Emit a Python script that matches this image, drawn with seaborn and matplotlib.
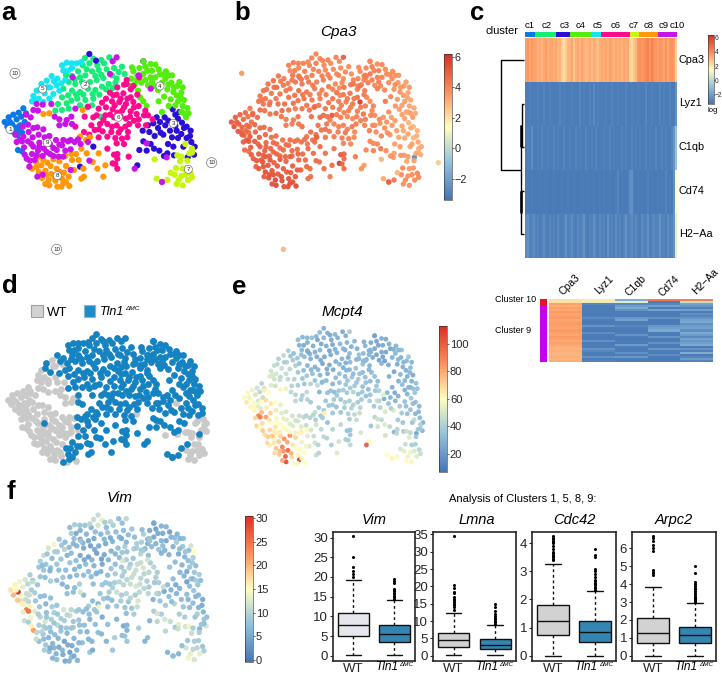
import numpy as np
import pandas as pd
import matplotlib
matplotlib.use("Agg")
import matplotlib.pyplot as plt
from matplotlib.cm import ScalarMappable
from matplotlib.colors import Normalize, LinearSegmentedColormap
from matplotlib.patches import Rectangle
import seaborn as sns

sns.set_theme(style="ticks")
plt.rcParams['font.family'] = ['Liberation Sans', 'DejaVu Sans']

W, H = 722, 675
expr_cmap = LinearSegmentedColormap.from_list('expr', ['#4575b4', '#91bfdb', '#ffffbf', '#fc8d59', '#d73027'])

# cells: x, y, is_wt, Cpa3, Mcpt4, Vim
c1_cells = [(14,366,1,5.2,58,17),(26,352,1,5.0,62,16),(40,344,1,4.9,55,14),(56,338,1,4.7,48,12),(70,325,1,4.4,42,9),
    (36,372,1,5.0,60,30),(50,358,1,4.7,50,13),(64,350,1,4.5,44,10),(22,380,1,5.3,66,20),(46,382,1,4.9,58,15),
    (60,376,1,4.6,50,11),(74,366,1,4.5,46,9),(52,406,1,4.9,60,14),(66,398,1,4.6,52,10),(54,450,1,4.7,70,11),(66,454,1,4.6,62,9),
    (30,366,1,5.0,56,15),(44,396,1,4.9,58,12),(58,392,1,4.8,54,11),(34,394,1,5.1,62,19),(78,340,1,4.5,44,8)]
c5_cells = [(100,288,1,4.4,48,9),(110,272,1,4.5,46,11),(124,252,0,4.5,42,12),(140,242,1,4.6,44,14),(155,228,0,4.4,40,8),
    (150,262,1,4.6,42,9),(134,280,0,4.3,46,7),(116,296,1,4.4,50,8),(160,282,0,4.5,44,8),(170,256,1,4.3,38,10),
    (184,250,0,4.2,36,7),(196,240,0,4.3,34,6),(186,196,0,4.1,32,7),(200,188,0,4.2,30,9),(216,204,0,4.0,28,6),
    (230,190,0,4.1,34,8),(244,186,0,4.0,30,10),(204,212,0,4.2,26,5),(130,306,1,4.3,44,7),(96,304,1,4.5,52,8),
    (178,272,0,4.4,40,6),(148,296,1,4.4,46,8),(120,268,0,4.4,44,8),(142,262,1,4.5,40,9),(106,300,1,4.4,50,7),
    (172,236,0,4.2,34,7),(215,190,0,4.2,30,8),(190,212,0,4.0,28,9),(162,244,0,4.3,36,8)]
c2_cells = [(255,174,0,4.1,32,11),(280,176,0,4.0,28,13),(268,190,0,4.2,30,12),(248,196,0,4.1,24,6),(292,196,0,4.0,26,7),
    (216,228,0,4.3,26,5),(234,214,0,4.2,28,6),(256,226,0,4.3,30,5),(276,214,0,4.1,26,6),(296,210,0,4.0,24,8),
    (320,208,0,3.9,30,7),(336,226,0,4.0,28,5),(350,236,0,3.8,32,6),(366,200,0,3.9,30,8),(374,222,0,3.8,28,7),
    (206,246,0,4.5,32,6),(226,252,0,4.4,28,5),(246,246,0,4.4,26,4),(270,246,0,4.2,24,5),(290,240,0,4.3,26,5),
    (310,234,0,4.1,28,6),(326,252,0,4.0,30,7),(346,248,0,3.9,26,9),(216,272,0,4.6,30,5),(240,276,0,4.4,28,4),
    (264,266,0,4.3,24,4),(286,270,0,4.2,26,5),(306,260,0,4.3,28,6),(232,296,0,4.5,34,7),(256,300,0,4.4,30,6),
    (280,296,0,4.2,28,5),(186,292,0,4.5,36,8),(190,266,0,4.4,34,7),(200,310,0,4.6,36,6),(166,332,1,4.6,42,8),
    (186,330,0,4.5,40,6),(206,326,0,4.3,36,7),(302,350,0,4.4,32,8),(262,322,0,4.4,34,7),(198,226,0,4.4,30,7),
    (312,190,0,3.9,28,9),(328,172,0,4.1,26,7),(240,232,0,4.2,28,5),(260,208,0,4.1,26,7),(286,228,0,4.2,24,6),
    (304,224,0,4.1,28,5),(224,238,0,4.4,30,6),(258,256,0,4.3,26,5),(278,282,0,4.2,26,4),(250,284,0,4.3,30,6),
    (298,284,0,4.3,26,6),(228,284,0,4.4,30,5),(204,286,0,4.5,32,7),(338,264,0,3.9,28,8),(356,216,0,3.9,28,7),
    (318,268,0,4.1,30,6),(276,316,0,4.3,32,6),(240,316,0,4.4,34,7),(214,302,0,4.5,36,6),(174,312,1,4.6,42,7),
    (342,204,0,3.9,30,7),(304,180,0,4.1,30,10)]
c4_cells = [(430,184,0,4.0,24,5),(452,192,0,3.8,28,6),(400,214,0,3.9,30,9),(418,204,0,4.0,26,5),(436,200,0,4.2,24,4),
    (456,212,0,4.1,26,5),(476,208,0,3.9,28,4),(498,214,0,3.8,30,6),(516,226,0,3.7,34,7),(394,236,0,4.0,32,9),
    (412,228,0,4.1,28,6),(430,222,0,4.3,26,5),(452,232,0,4.2,26,6),(496,236,0,3.8,30,9),(514,248,0,3.6,28,8),
    (532,258,0,3.5,32,7),(404,254,0,4.1,28,6),(424,248,0,4.2,26,7),(444,256,0,4.0,24,8),(462,258,0,4.0,22,6),
    (502,268,0,3.7,26,5),(520,276,0,3.6,28,6),(544,278,0,3.3,32,9),(414,272,0,4.2,30,7),(492,290,0,3.9,24,7),
    (512,298,0,3.5,30,6),(534,304,0,3.4,28,8),(552,300,0,3.2,26,7),(562,324,0,3.3,34,9),(476,304,0,4.3,28,8),
    (440,318,0,4.1,32,9),(486,336,0,3.7,28,7),(544,336,0,3.3,30,6),(558,352,0,3.5,36,8),(430,304,0,3.9,34,10),
    (538,246,0,3.4,36,12),(480,222,0,4.0,24,6),(548,262,0,3.6,30,15),(396,202,0,3.9,28,7),(412,240,0,4.1,30,6),
    (442,212,0,4.1,24,5),(466,232,0,4.1,24,5),(486,248,0,3.9,28,6),(505,254,0,3.8,30,7),(522,262,0,3.6,30,8),
    (490,224,0,3.9,28,7),(506,226,0,3.8,30,6),(436,240,0,4.2,24,6),(456,246,0,4.1,24,7),(474,270,0,4.0,26,6),
    (394,258,0,4.1,30,8),(530,286,0,3.5,28,7),(548,318,0,3.3,28,8),(526,316,0,3.4,30,5),(506,318,0,3.6,28,6),
    (420,292,0,4.0,32,9),(552,340,0,3.4,34,9),(542,292,0,3.3,30,8),(566,340,0,3.2,34,7),(466,194,0,4.0,26,6)]
c6_cells = [(352,262,0,4.4,32,8),(372,254,0,4.5,30,9),(392,268,0,4.2,34,10),(330,278,0,4.5,28,7),(350,284,0,4.3,30,9),
    (370,280,0,4.4,34,8),(392,292,0,4.4,32,11),(412,284,0,4.3,30,12),(318,296,0,4.4,34,7),(336,304,0,4.3,32,8),
    (358,306,0,4.2,36,10),(378,312,0,4.4,38,11),(400,306,0,5.8,34,12),(416,318,0,4.2,32,10),(296,326,0,4.4,30,7),
    (318,322,0,4.3,34,9),(338,328,0,4.2,36,9),(366,332,0,4.1,38,11),(392,334,0,4.2,34,10),(410,342,0,4.4,32,9),
    (432,346,0,4.1,36,8),(280,352,0,4.7,34,8),(316,346,0,5.2,36,9),(342,352,0,4.1,38,10),(378,356,0,4.0,36,12),
    (402,362,0,4.2,34,10),(300,372,0,4.4,38,9),(322,372,0,4.2,36,11),(350,376,0,4.1,40,10),(376,380,0,4.3,38,9),
    (284,390,0,4.5,36,8),(308,394,0,4.4,34,7),(334,396,0,4.3,38,9),(356,398,0,4.4,42,8),(268,404,0,4.6,38,6),
    (296,412,0,4.4,36,7),(350,430,0,4.1,40,7),(372,432,0,4.0,46,9),(342,464,0,5.1,34,5),(352,476,0,4.7,36,6),
    (338,490,0,6.0,40,7),(352,506,0,4.6,44,8),(386,470,0,4.2,50,9),(322,446,0,4.4,44,6),(418,232,0,4.3,30,8),
    (444,346,0,4.0,40,9),(254,350,0,4.6,30,7),(264,320,0,4.6,32,6),(380,240,0,4.1,34,9),(438,376,0,3.9,46,10),
    (458,358,0,3.9,52,11),(340,286,0,4.2,30,12),(362,350,0,4.0,42,11),(226,380,0,4.6,38,7),(362,296,0,4.3,32,9),
    (382,296,0,4.3,34,11),(344,316,0,4.2,36,9),(372,322,0,4.2,36,11),(402,322,0,4.2,34,10),(306,308,0,4.4,32,8),
    (290,346,0,4.6,34,8),(330,344,0,4.2,38,10),(352,338,0,4.1,38,10),(390,350,0,4.1,36,11),(416,358,0,4.2,36,9),
    (310,360,0,4.3,36,9),(336,380,0,4.2,40,9),(362,388,0,4.2,40,10),(388,372,0,4.2,38,10),(296,388,0,4.5,36,7),
    (274,376,0,4.5,36,8),(252,396,0,4.6,38,7),(322,410,0,4.3,36,8),(346,414,0,4.2,40,8),(366,416,0,4.1,44,8),
    (414,376,0,4.1,40,10),(384,396,0,4.0,42,12),(352,462,0,4.8,34,6),(346,492,0,4.8,40,8),(380,252,0,4.4,32,9),
    (400,258,0,4.3,32,9),(436,332,0,4.0,36,9),(382,412,1,4.0,46,11)]
c3_cells = [(268,162,0,4.1,28,11),(288,182,0,4.0,26,9),(430,184,0,3.8,22,5),(470,352,0,3.6,30,7),(494,352,0,3.4,26,5),
    (518,328,0,3.4,32,6),(538,336,0,3.2,30,8),(526,344,0,3.4,28,4),(546,368,0,3.0,36,8),(460,370,0,3.7,28,5),
    (474,384,0,3.9,34,7),(496,376,1,3.6,30,6),(510,392,0,3.4,38,7),(530,392,0,3.2,34,6),(448,396,0,3.9,42,8),
    (428,392,0,4.2,38,6),(464,408,0,4.0,50,9),(490,404,0,3.6,52,10),(516,412,0,3.3,38,8),(560,380,0,2.9,32,6),
    (570,408,0,3.1,30,5),(584,440,1,3.2,28,7),(582,464,1,3.1,30,12),(563,472,0,-2.6,24,6),(544,402,0,3.3,34,7),
    (430,424,0,4.0,44,9),(462,446,0,4.3,52,12),(418,450,0,4.0,36,6),(492,468,0,3.7,30,8),(520,440,0,3.5,36,9),
    (412,496,0,3.5,58,7),(280,440,0,4.6,34,5),(240,500,0,4.8,48,6),(522,466,1,3.6,38,12),(502,460,0,3.4,42,13),
    (480,366,0,3.6,30,6),(505,362,0,3.5,28,6),(534,356,0,3.3,30,7),(552,384,0,3.1,32,6),(444,376,0,3.9,40,8),
    (482,398,0,3.7,40,7),(526,378,0,3.3,34,7),(560,414,0,3.0,30,6),(574,426,1,3.2,32,6),(504,432,0,3.4,38,9),
    (440,452,0,4.1,48,10),(478,452,0,3.8,44,11),(534,414,0,3.3,34,7),(550,440,1,3.2,34,8),(452,432,0,4.0,44,9),(572,392,0,3.0,30,5)]
c7_cells = [(556,432,1,3.4,44,9),(576,446,1,3.2,40,8),(532,466,1,3.6,48,14),(540,484,1,3.3,52,11),(562,482,1,3.4,36,9),
    (528,504,0,3.9,46,8),(548,506,1,3.6,40,9),(572,520,1,4.0,42,8),(524,524,1,3.9,54,12),(544,528,1,3.7,56,10),
    (564,540,1,3.8,52,13),(530,552,1,3.8,60,14),(548,556,1,3.7,62,12),(470,536,0,3.2,60,6),(512,518,0,3.0,50,7),
    (464,478,1,3.0,48,10),(486,546,0,4.8,62,9),(502,540,0,4.4,58,6),(576,458,1,3.0,38,7),(560,504,1,3.6,40,9),
    (536,540,1,3.8,56,13),(556,524,1,3.8,52,10),(576,532,1,4.0,46,9),(568,460,1,3.3,36,8),(544,470,1,3.4,44,9)]
c8_cells = [(108,486,1,5.3,62,8),(124,496,1,5.2,72,6),(142,488,1,5.0,85,7),(160,478,1,5.1,88,8),(178,484,1,4.9,70,6),
    (196,468,1,4.8,66,9),(214,462,1,4.8,62,7),(96,506,1,5.1,64,7),(116,516,1,5.4,74,8),(136,512,1,5.2,90,6),
    (154,522,1,5.1,98,5),(170,506,1,5.0,66,4),(192,518,0,5.0,58,5),(126,534,1,5.3,72,7),(146,540,1,5.6,100,6),
    (166,542,1,5.4,68,5),(186,536,0,5.3,62,4),(206,530,0,5.2,60,6),(148,556,1,5.6,105,7),(172,560,0,5.3,58,5),
    (190,550,0,5.4,108,7),(208,558,1,5.5,60,6),(228,462,0,4.7,50,7),(244,446,0,4.6,48,6),(222,510,0,4.9,52,7),
    (244,536,0,4.6,46,8),(292,506,0,4.6,40,6),(310,530,0,4.3,52,8),(278,486,0,4.7,42,6),(316,496,0,4.7,48,9),
    (258,420,0,4.5,38,8),(240,410,0,4.5,46,9),(270,412,0,5.0,64,14),(130,342,1,4.5,62,9),(148,340,1,4.7,56,7),
    (248,330,0,4.4,44,7),(296,460,0,4.5,42,7),(252,530,0,4.6,42,5),(130,480,1,5.2,70,7),(152,498,1,5.1,80,6),
    (180,516,0,5.1,60,5),(110,500,1,5.2,66,7),(198,498,0,5.0,56,6),(116,470,1,5.1,64,8),(164,530,1,5.3,78,6),
    (136,552,1,5.4,80,6),(198,546,0,5.3,58,5),(184,560,1,5.3,62,6),(216,480,0,4.8,52,7),(236,480,0,4.7,46,6),
    (260,460,0,4.6,44,7),(250,506,0,4.7,42,6),(140,524,1,5.3,86,6)]
c9_cells = [(46,404,1,5.0,62,16),(60,420,1,5.1,90,24),(78,344,1,4.8,64,11),(92,352,1,4.7,60,8),(84,374,1,4.8,68,9),
    (100,384,1,4.7,66,7),(66,424,1,5.2,92,25),(84,424,1,5.1,82,13),(98,412,1,4.9,70,8),(116,404,1,4.8,66,6),
    (80,476,1,5.0,68,22),(100,440,1,5.0,60,10),(118,428,1,4.8,58,7),(134,412,1,4.6,52,9),(96,462,1,5.1,70,9),
    (114,452,1,4.9,66,12),(132,446,1,4.8,60,9),(150,432,1,4.7,54,8),(168,420,1,4.6,48,12),(88,500,1,5.0,68,11),
    (128,468,1,5.0,64,8),(150,462,1,4.8,58,10),(170,450,1,4.7,52,9),(186,436,1,4.7,50,11),(204,424,1,4.5,44,9),
    (104,480,1,5.1,74,10),(190,470,1,4.9,62,8),(212,448,0,4.6,46,8),(224,426,0,4.5,42,7),(242,432,0,4.4,40,7),
    (264,426,0,4.5,38,8),(212,510,0,5.1,56,6),(268,482,0,4.7,44,7),(178,358,1,4.3,42,6),(196,372,1,4.2,40,7),
    (214,350,0,4.4,44,9),(226,326,0,4.5,42,7),(110,312,1,4.5,48,8),(128,314,1,4.5,46,6),(154,312,1,4.6,44,7),
    (218,232,0,4.4,26,8),(338,184,0,4.0,28,7),(330,222,0,4.0,30,6),(452,266,0,4.2,30,6),(350,172,0,5.0,38,10),
    (416,226,0,4.2,30,8),(440,430,0,3.9,48,12),(486,546,0,4.9,62,7),(500,472,1,3.5,44,11),(404,506,0,3.7,100,6),
    (128,524,1,5.3,76,5),(112,530,1,5.1,68,9),(72,442,1,5.0,68,14),(68,380,1,4.8,60,11),(86,396,1,4.8,64,8),
    (50,426,1,5.0,70,13),(70,410,1,5.0,76,16),(112,382,1,4.7,60,7),(130,388,1,4.6,54,7),(148,408,1,4.6,50,8),
    (94,432,1,4.9,66,9),(118,440,0,4.8,60,8),(140,428,1,4.7,54,9),(160,444,1,4.7,52,9),(178,434,1,4.6,48,10),
    (196,452,1,4.7,52,8),(110,466,1,5.0,64,9),(140,456,1,4.9,60,8),(160,468,1,4.8,58,7),(176,470,1,4.8,56,8),
    (74,464,1,5.0,72,16),(90,482,1,5.1,72,10),(212,420,0,4.5,42,8),(234,418,0,4.5,42,7),(190,420,1,4.6,46,10),
    (200,360,1,4.3,40,7),(216,372,0,4.4,42,12),(178,376,1,4.3,44,7),(114,332,1,4.5,48,7),(164,350,1,4.5,44,6),(100,330,1,4.6,52,8)]
c10_cells = [(45,220,0,3.6,48,10),(635,488,0,2.5,50,9),(170,748,0,3.0,52,8)]

# heatmap c, one value per column, columns ordered c1..c10
cpa3_row = [3.5,3.7,3.4,3.6,3.5, 3.4,3.2,3.3,3.1,3.3,3.5,3.2,3.3,3.4,3.2, 3.3,3.0,3.1,2.5,2.2,2.6,3.0,
    3.1,3.4,2.7,3.2,3.3,3.0,3.4,3.2,2.9,3.1,3.3, 2.9,3.3,3.1,2.8,3.2,
    3.3,3.2,3.4,3.1,3.5,3.3,3.0,3.4,3.2,3.3,3.1,3.4,3.2,3.3, 2.5,2.3,2.7,3.0,
    3.7,3.9,3.6,3.8,4.0,4.2,3.7,4.2,3.8,3.6, 3.5,3.8,3.6,3.4,3.7,3.3,3.7,3.8,3.5, 2.4]
lyz1_row = [-3.0,-3.0,-2.9,-3.0,-3.0, -3.0,-2.9,-3.0,-3.0,-2.8,-3.0,-3.0,-2.9,-3.0,-3.0, -3.0,-3.0,-2.7,-3.0,-2.9,-3.0,-3.0,
    -3.0,-2.9,-3.0,-3.0,-3.0,-2.7,-3.0,-2.9,-3.0,-3.0,-2.8, -3.0,-2.6,-3.0,-2.9,-3.0,
    -3.0,-3.0,-2.9,-3.0,-3.0,-2.8,-3.0,-3.0,-2.9,-3.0,-3.0,-3.0,-2.8,-3.0, -3.0,-2.9,-3.0,-3.0,
    -2.9,-3.0,-3.0,-3.0,-2.7,-3.0,-3.0,-2.9,-3.0,-3.0, -3.0,-2.8,-3.0,-2.9,-3.0,-3.0,-2.8,-3.0,-3.0, -2.4]
c1qb_row = [-3.0,-2.8,-3.0,-2.5,-3.0, -3.0,-2.9,-3.0,-2.7,-3.0,-3.0,-2.9,-3.0,-3.0,-2.8, -3.0,-2.9,-3.0,-3.0,-2.7,-3.0,-3.0,
    -2.9,-3.0,-3.0,-2.8,-3.0,-2.9,-3.0,-3.0,-2.7,-3.0,-3.0, -2.9,-3.0,-2.8,-3.0,-3.0,
    -3.0,-2.9,-3.0,-3.0,-2.7,-3.0,-2.9,-3.0,-3.0,-3.0,-2.8,-3.0,-2.9,-3.0, -3.0,-2.8,-3.0,-2.9,
    -3.0,-2.9,-3.0,-3.0,-2.8,-3.0,-2.9,-3.0,-3.0,-2.7, -3.0,-3.0,-2.8,-3.0,-2.9,-3.0,-3.0,-2.8,-2.2, -0.8]
cd74_row = [-3.1,-3.0,-3.1,-3.0,-3.1, -3.1,-3.1,-3.0,-3.1,-3.1,-3.0,-3.1,-3.1,-3.1,-3.0, -3.1,-3.1,-3.1,-3.0,-3.1,-3.1,-3.0,
    -3.1,-3.1,-3.0,-3.1,-3.1,-3.1,-3.0,-3.1,-3.1,-3.0,-3.1, -3.1,-3.0,-3.1,-3.1,-3.0,
    -3.1,-3.0,-3.1,-3.1,-3.0,-3.1,-3.1,-3.0,-2.7,-3.1,-3.0,-3.1,-3.1,-3.0, -2.5,-2.4,-3.0,-3.1,
    -3.0,-3.1,-3.0,-3.1,-3.1,-2.9,-3.1,-3.0,-3.1,-3.1, -3.0,-3.1,-3.0,-3.1,-2.8,-3.1,-3.0,-3.1,-2.4, 1.5]
h2aa_row = [-2.6,-2.4,-2.9,-2.8,-2.5, -2.9,-2.7,-3.0,-2.8,-2.5,-2.9,-3.0,-2.7,-2.9,-2.8, -3.0,-2.6,-2.9,-3.0,-2.8,-2.4,-2.9,
    -2.8,-2.5,-2.9,-3.0,-2.6,-2.9,-2.8,-2.3,-2.9,-3.0,-2.7, -2.9,-2.4,-2.8,-3.0,-2.6,
    -2.9,-2.7,-3.0,-2.4,-2.9,-2.8,-3.0,-2.5,-2.9,-2.7,-3.0,-2.8,-2.3,-2.9, -2.8,-2.5,-2.9,-2.6,
    -2.9,-3.0,-2.5,-2.8,-2.9,-2.4,-3.0,-2.8,-2.6,-2.9, -2.8,-2.3,-2.9,-2.7,-3.0,-2.5,-2.9,-2.8,-2.3, 1.0]
c_genes = ['Cpa3', 'Lyz1', 'C1qb', 'Cd74', 'H2\u2212Aa']
cluster_widths = [32, 63, 42, 65, 28, 87, 27, 58, 55, 1]
cluster_names = ['c1', 'c2', 'c3', 'c4', 'c5', 'c6', 'c7', 'c8', 'c9', 'c10']
cluster_colors = ['#0a78e6', '#14ee78', '#2a0fd6', '#54ee0c', '#14e6f2', '#ff0a8e', '#c6f50f', '#ff980a', '#c814e6', '#e8102a']

# small heatmap, one value per cell, cluster 10 cells first
low_cpa3 = [2.1,2.1,3.5,3.2,3.5,3.3,3.6,3.4,3.5,3.6,3.3,3.5,3.6,3.5,3.4,3.6,3.5,3.4,3.6,3.5,3.3,3.5,3.4,3.2,3.1,3.2,3.0,3.1,3.2,3.0,3.2]
low_lyz1 = [2.0,0.9,-2.7,-3.0,-3.1,-3.0,-3.0,-3.1,-3.0,-2.6,-3.0,-3.1,-3.0,-2.3,-3.0,-3.1,-2.5,-3.0,-3.1,-3.0,-2.4,-3.1,-3.0,-3.0,-2.3,-2.7,-3.0,-3.0,-2.4,-3.0,-2.8]
low_c1qb = [-1.4,0.8,-2.6,-2.0,-1.6,-2.3,-3.0,-3.0,-3.0,-2.2,-1.8,-3.0,-3.0,-2.7,-3.0,-3.1,-3.0,-2.3,-3.0,-3.1,-3.0,-3.0,-2.0,-3.0,-3.1,-3.0,-2.4,-3.0,-2.1,-3.0,-3.0]
low_cd74 = [4.4,-3.0,-2.7,-1.8,-3.0,-1.8,-3.0,-3.1,-3.0,-2.4,-3.0,-3.1,-3.0,-2.1,-1.9,-1.6,-3.0,-3.0,-2.3,-3.1,-3.0,-2.4,-3.0,-3.1,-2.2,-3.0,-3.0,-2.5,-3.0,-3.1,-3.0]
low_h2aa = [4.2,0.4,-1.8,-2.2,-2.9,-1.9,-3.0,-2.5,-2.8,-2.3,-1.8,-1.6,-2.4,-2.0,-1.8,-2.5,-1.6,-2.0,-2.6,-1.8,-2.2,-1.9,-1.6,-3.0,-2.3,-2.9,-1.5,-3.0,-2.7,-2.0,-2.8]

# boxplots: low whisker, q1, median, q3, top whisker, then the outliers
vim_wt = [0.3, 5.0, 7.8, 10.8, 19.2]
vim_wt_out = [20, 20.8, 21.5, 22.5, 25.2, 30.3]
vim_ko = [0.1, 3.6, 5.6, 7.8, 14.05]
vim_ko_out = [14.4, 14.8, 15.2, 15.6, 16, 16.4, 16.8, 17, 18.5, 19, 19.5]
lmna_wt = [0.1, 2.5, 4.5, 6.6, 12.4]
lmna_wt_out = [13.2, 14, 14.6, 15, 15.5, 16, 16.5, 17, 18, 18.5, 19.5, 20.5, 34.5]
lmna_ko = [0.1, 1.9, 3.1, 4.8, 8.9]
lmna_ko_out = [9.2, 9.6, 10, 10.5, 11, 11.5, 12, 13, 14, 15]
cdc42_wt = [0, 0.75, 1.22, 1.8, 3.28]
cdc42_wt_out = [3.4, 3.45, 3.5, 3.55, 3.6, 3.65, 3.7, 3.8, 3.9, 4.0, 4.05, 4.1, 4.15, 4.2, 4.25]
cdc42_ko = [0, 0.5, 0.85, 1.23, 2.31]
cdc42_ko_out = [2.35, 2.4, 2.45, 2.5, 2.55, 2.6, 2.65, 2.7, 2.8, 2.9, 3.0, 3.1, 3.5, 3.6, 3.8]
arpc2_wt = [0, 0.7, 1.25, 2.08, 3.82]
arpc2_wt_out = [4.5, 4.6, 4.7, 4.8, 5.85, 6, 6.2, 6.4, 6.6, 6.7]
arpc2_ko = [0, 0.72, 1.15, 1.62, 2.92]
arpc2_ko_out = [3, 3.05, 3.1, 3.15, 3.2, 3.25, 3.3, 3.4, 3.5, 3.6, 3.7, 3.8, 3.9, 4, 4.1, 4.6, 5]

WT_COLOR = '#d2d2d2'
KO_COLOR = '#1f8bc7'

fig = plt.figure(figsize=(W / 100, H / 100), dpi=100)


def add_ax(left, top, right, bottom):
    return fig.add_axes([left / W, 1 - bottom / H, (right - left) / W, (bottom - top) / H])


def put_text(x, y, s, **kw):
    kw.setdefault('va', 'center')
    kw.setdefault('color', 'black')
    fig.text(x / W, 1 - y / H, s, **kw)


def ko_label(x, y, size):
    # Tln1 with its small superscript
    put_text(x, y, 'Tln1', fontsize=size, style='italic')
    put_text(x + size * 2.75, y - 3.5, '\u0394MC', fontsize=size * 0.52, style='italic')


def embed_ax(x0, sx, y0, sy):
    ax = add_ax(x0, y0, x0 + sx * 720, y0 + sy * 810)
    ax.set_xlim(0, 720)
    ax.set_ylim(810, 0)
    ax.axis('off')
    return ax


def hide_labels(ax):
    ax.set_xlabel('')
    ax.set_ylabel('')


def add_cbar(left, top, right, bottom, vmin, vmax, ticks, size, tick_len=1.5, tick_pad=0.6):
    cax = add_ax(left, top, right, bottom)
    sm = ScalarMappable(norm=Normalize(vmin, vmax), cmap=expr_cmap)
    cb = fig.colorbar(sm, cax=cax, ticks=ticks)
    cb.outline.set_linewidth(0.4)
    cb.ax.tick_params(labelsize=size, length=tick_len, width=0.5, pad=tick_pad)
    cb.ax.set_yticklabels([str(t).replace('-', '\u2212') for t in ticks])


rows = []
all_cells = [c1_cells, c2_cells, c3_cells, c4_cells, c5_cells, c6_cells, c7_cells, c8_cells, c9_cells, c10_cells]
for num, cells in enumerate(all_cells):
    for cell in cells:
        rows.append((num + 1,) + cell)
df = pd.DataFrame(rows, columns=['cluster', 'x', 'y', 'wt', 'cpa3', 'mcpt4', 'vim'])
main = df[df['cluster'] != 10]

# a
ax = embed_ax(0, 1 / 3, 0, 1 / 3)
palette = dict(zip(range(1, 11), cluster_colors))
sns.scatterplot(data=main, x='x', y='y', hue='cluster', palette=palette, s=20, linewidth=0, legend=False, ax=ax)
label_pos = [(30, 388, '1'), (255, 255, '2'), (520, 370, '3'), (480, 258, '4'), (128, 267, '5'), (355, 352, '6'),
             (565, 508, '7'), (172, 527, '8'), (142, 428, '9'), (45, 220, '10'), (635, 488, '10'), (170, 748, '10')]
for lx, ly, txt in label_pos:
    ax.text(lx, ly, txt, ha='center', va='center', fontsize=4.5, color='#222222',
            bbox=dict(boxstyle='circle,pad=0.25', fc='white', ec='#777777', lw=0.5))

# b
ax = embed_ax(226.7, 1 / 3, 0, 1 / 3)
sns.scatterplot(data=df, x='x', y='y', hue='cpa3', hue_norm=(-3.4, 6.2), palette=expr_cmap, s=15, linewidth=0, alpha=0.95, legend=False, ax=ax)
add_cbar(444, 54, 452, 200, -3.4, 6.2, [-2, 0, 2, 4, 6], 7.8)

# d
ax = embed_ax(3.16, 0.348, 282.5, 0.32)
sns.scatterplot(data=main[main['wt'] == 1], x='x', y='y', color='#c9c9c9', s=24, linewidth=0, legend=False, ax=ax)
sns.scatterplot(data=main[main['wt'] == 0], x='x', y='y', color='#1583c2', s=24, linewidth=0, legend=False, ax=ax)
fig.add_artist(Rectangle((31 / W, 1 - 317 / H), 12 / W, 12 / H, transform=fig.transFigure, fc=WT_COLOR, ec='#a0a0a0', lw=0.8))
fig.add_artist(Rectangle((84 / W, 1 - 317 / H), 11 / W, 12 / H, transform=fig.transFigure, fc=KO_COLOR, ec='#7fb8d8', lw=0.8))
put_text(47, 313, 'WT', fontsize=9.5)
ko_label(100, 312, 9)

# e
ax = embed_ax(239.6, 0.314, 273.4, 0.339)
sns.scatterplot(data=main, x='x', y='y', hue='mcpt4', hue_norm=(6.9, 113), palette=expr_cmap, s=12, linewidth=0, alpha=0.95, legend=False, ax=ax)
add_cbar(439, 326, 447, 472, 6.9, 113, [20, 40, 60, 80, 100], 8)

# f
ax = embed_ax(5.87, 0.344, 455.6, 0.367)
sns.scatterplot(data=main, x='x', y='y', hue='vim', hue_norm=(-0.4, 30.5), palette=expr_cmap, s=15, linewidth=0, alpha=0.95, legend=False, ax=ax)
add_cbar(245, 515.7, 253, 661.7, -0.4, 30.5, [0, 5, 10, 15, 20, 25, 30], 8)

# c heatmap
ax = add_ax(524.5, 37.7, 676.5, 257.7)
sns.heatmap(np.array([cpa3_row, lyz1_row, c1qb_row, cd74_row, h2aa_row]), cmap=expr_cmap, vmin=-3.3, vmax=6.3,
            cbar=False, xticklabels=False, yticklabels=False, ax=ax)
for gene, gy in zip(c_genes, [60, 103, 146.7, 190.7, 234.3]):
    put_text(678.7, gy, gene, fontsize=7.8)
add_cbar(708, 35, 713.5, 104.3, -3.3, 6.3, [-2, 0, 2, 4, 6], 4.8, tick_len=0.5, tick_pad=0.2)
put_text(713, 111, 'log', fontsize=5.5, ha='center')

# c cluster bar
ax = add_ax(524.5, 32.3, 677, 36.7)
left = 0
for width, color in zip(cluster_widths, cluster_colors):
    ax.barh(0, width, left=left, height=1, color=color, linewidth=0)
    left += width
ax.set_xlim(0, left)
ax.set_ylim(-0.5, 0.5)
ax.axis('off')
for name, cx in zip(cluster_names, [180, 230, 283, 333, 382, 436, 491, 535, 580, 621]):
    put_text(470 + cx / 3, 26, name, fontsize=6.8, ha='center')
put_text(502, 31, 'cluster', fontsize=8, ha='center')

# c dendrogram
ax = add_ax(498, 37.7, 525, 257.7)
ax.set_xlim(498, 525)
ax.set_ylim(257.7, 37.7)
ax.axis('off')
for xs, ys, lw in [([524, 500.7, 500.7, 520.5], [60, 60, 170, 170], 1.0),
                   ([524, 521.5, 521.5, 524], [104, 104, 147, 147], 1.0),
                   ([524, 521, 521, 524], [191, 191, 234, 234], 1.0),
                   ([520.5, 520.5], [125, 212], 1.0),
                   ([520.8, 520.8], [125, 147], 1.8),
                   ([520.5, 520.5], [191, 213], 1.8)]:
    ax.plot(xs, ys, color='black', lw=lw, solid_capstyle='butt')

# small heatmap
ax = add_ax(549, 299.3, 713.3, 361.7)
sns.heatmap(np.array([low_cpa3, low_lyz1, low_c1qb, low_cd74, low_h2aa]).T, cmap=expr_cmap, vmin=-3.3, vmax=6.3,
            cbar=False, xticklabels=False, yticklabels=False, ax=ax)
ax = add_ax(540, 299.3, 547.3, 361.7)
ax.barh(1.5, 1, height=3, color='#f01020', linewidth=0)
ax.barh(17, 1, height=28, color='#c800f0', linewidth=0)
ax.set_xlim(0, 1)
ax.set_ylim(31, 0)
ax.axis('off')
put_text(536, 300, 'Cluster 10', fontsize=6.5, ha='right')
put_text(531, 330.7, 'Cluster 9', fontsize=6.5, ha='right')
for gene, gx, gy in zip(c_genes, [570, 604, 636, 669, 705], [285, 285, 286, 286, 282]):
    put_text(gx, gy, gene, fontsize=7.5, rotation=45, ha='center')

# titles and panel letters
put_text(338, 32, 'Cpa3', fontsize=11, style='italic', ha='center')
put_text(342, 312, 'Mcpt4', fontsize=11, style='italic', ha='center')
put_text(120, 498, 'Vim', fontsize=11, style='italic', ha='center')
for letter, lx, ly in [('a', 1, 20), ('b', 234, 20), ('c', 470, 20), ('d', 2, 293), ('e', 232, 294), ('f', 7, 499)]:
    put_text(lx, ly, letter, fontsize=18.5, fontweight='bold', va='baseline')
put_text(523, 499, 'Analysis of Clusters 1, 5, 8, 9:', fontsize=8, ha='center')


# boxplots
def box_sample(stats, outliers):
    m = len(outliers) + 1
    low, q1, med, q3, top = stats
    return [low] + [q1] * m + [med] * m + [q3] * m + [top] + outliers


box_panels = [('Vim', vim_wt, vim_wt_out, vim_ko, vim_ko_out, 332.7, 415, (-1.27, 31.5), [0, 5, 10, 15, 20, 25, 30], '#e4e6ee'),
              ('Lmna', lmna_wt, lmna_wt_out, lmna_ko, lmna_ko_out, 432.7, 516, (-1.44, 35.8), [0, 5, 10, 15, 20, 25, 30, 35], WT_COLOR),
              ('Cdc42', cdc42_wt, cdc42_wt_out, cdc42_ko, cdc42_ko_out, 532, 616, (-0.18, 4.415), [0, 1, 2, 3, 4], WT_COLOR),
              ('Arpc2', arpc2_wt, arpc2_wt_out, arpc2_ko, arpc2_ko_out, 632, 716, (-0.28, 6.93), [0, 1, 2, 3, 4, 5, 6], WT_COLOR)]
for gene, wt, wt_out, ko, ko_out, bx0, bx1, ylim, yticks, wt_color in box_panels:
    ax = add_ax(bx0, 531.7, bx1, 660.7)
    wt_vals = box_sample(wt, wt_out)
    ko_vals = box_sample(ko, ko_out)
    long = pd.DataFrame({'group': ['WT'] * len(wt_vals) + ['KO'] * len(ko_vals), 'value': wt_vals + ko_vals})
    sns.boxplot(data=long, x='group', y='value', hue='group', palette={'WT': wt_color, 'KO': KO_COLOR}, width=0.75,
                linecolor='#111111', linewidth=1.0, fliersize=1.2, whiskerprops={'linestyle': (0, (2, 2))},
                flierprops={'marker': 'o', 'markerfacecolor': 'black', 'markeredgecolor': 'black'},
                legend=False, ax=ax)
    hide_labels(ax)
    ax.set_ylim(*ylim)
    ax.set_yticks(yticks)
    ax.set_xticks([0])
    ax.set_xticklabels(['WT'])
    ax.tick_params(axis='x', length=0, labelsize=9.5, pad=1.5)
    ax.tick_params(axis='y', length=2.5, width=0.8, labelsize=9.5, pad=1)
    for side in ax.spines.values():
        side.set_linewidth(1.2)
        side.set_visible(True)
    ko_label(bx0 + 43, 667.5, 8.6)
    put_text((bx0 + bx1) / 2 + (2 if gene == 'Lmna' else 0), 520, gene, fontsize=10.5, style='italic', ha='center')

fig.savefig('out.png', dpi=100)
